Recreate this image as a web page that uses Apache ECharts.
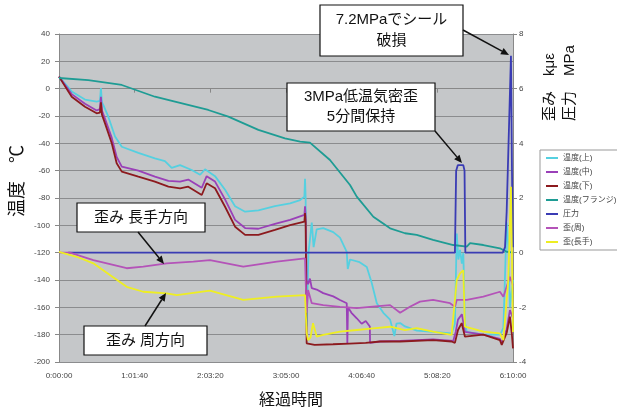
<!DOCTYPE html>
<html>
<head>
<meta charset="utf-8">
<script src="https://cdn.jsdelivr.net/npm/echarts@6/dist/echarts.min.js"></script>
<style>
  html, body { margin: 0; padding: 0; background: #fff; }
  #chart { width: 617px; height: 410px; }
</style>
</head>
<body>
<div id="chart"></div>
<script>
// 経過時間 [秒] と値のペア
var tempTop = [[0, 8.8], [620, -2], [1270, -8], [1840, -9.5], [2000, -9], [2050, 0.5], [2100, -10], [2170, -12], [2410, -20.5],
  [2740, -35], [3070, -42.5], [3880, -47], [4690, -51], [5180, -53], [5510, -58], [5920, -56], [6000, -57], [6490, -59.5],
  [6900, -63], [7140, -59], [7630, -64], [8120, -74], [8610, -86], [9100, -90], [9750, -89], [10560, -86], [11300, -84],
  [11790, -81.5], [12000, -79], [12030, -66], [12060, -80], [12110, -174], [12200, -120], [12360, -98], [12450, -116],
  [12600, -103], [12920, -102], [13410, -105], [13740, -109], [14070, -119.5], [14120, -132], [14230, -125], [14700, -127],
  [15050, -130.5], [15290, -142], [15540, -157], [15860, -164], [16190, -169], [16400, -181], [16500, -172], [16680, -171.5],
  [16920, -174], [17500, -177], [18290, -178], [19200, -179], [19360, -172], [19450, -106], [19530, -125], [19610, -118],
  [19700, -128], [19770, -120], [19850, -171], [19940, -178], [20750, -180], [21570, -180], [21730, -175], [21890, -98],
  [21970, -115], [22050, -160], [22200, -140]];

var tempMid = [[0, 8.8], [620, -4], [1270, -11], [1840, -16], [2000, -15], [2050, -6], [2100, -16], [2250, -22], [2580, -36],
  [2820, -50], [3070, -57], [3880, -60], [4690, -64.4], [5350, -67.5], [5920, -68], [6320, -66.5], [6980, -72.5], [7220, -64],
  [7630, -68], [8120, -81], [8610, -96], [9100, -102], [9750, -102.5], [10560, -99], [11300, -96], [12000, -92.4], [12030, -86],
  [12060, -93], [12110, -140], [12180, -143], [12270, -139], [12360, -146], [12600, -147], [12920, -149.6], [13410, -152],
  [13740, -154.6], [14070, -157], [14100, -186], [14130, -160], [14300, -164], [14560, -168], [14800, -172], [15000, -170],
  [15200, -174], [15210, -186], [15700, -185], [16680, -184.5], [18290, -183.5], [19280, -184.5], [19400, -178], [19510, -169],
  [19700, -165], [19850, -178], [20750, -180], [21560, -183], [21650, -186], [21890, -176], [22050, -162], [22200, -168]];

var tempLow = [[0, 8.8], [620, -5.9], [1270, -13.2], [1840, -18], [2000, -17.5], [2050, -10], [2100, -19], [2250, -25.4],
  [2580, -40], [2820, -54.6], [3070, -60.7], [3880, -64.4], [4690, -68], [5350, -71.7], [5920, -72.9], [6320, -71.7],
  [6980, -77.8], [7220, -69.2], [7630, -72.9], [8120, -86.4], [8610, -101], [9100, -107], [9750, -107], [10560, -103.4],
  [11300, -99.8], [12000, -97.3], [12030, -91], [12060, -98], [12110, -186.3], [12500, -187.5], [13400, -187], [14200, -186.5],
  [15000, -186], [15700, -185], [16680, -185], [18290, -184], [19200, -185], [19360, -186], [19510, -176.6], [19690, -171.5],
  [19850, -181.5], [20750, -180], [21560, -184], [21650, -187.5], [21890, -178.8], [22050, -166.8], [22140, -179], [22200, -190]];

var tempFlange = [[0, 7.8], [1430, 6.3], [3070, 2.7], [4690, -5.9], [5670, -9.5], [7300, -15.6], [8280, -20.5], [9750, -30.2],
  [11050, -36.3], [11790, -38.8], [12270, -39.5], [13250, -52.2], [14230, -70.5], [14560, -79], [15370, -93.7],
  [16190, -102.2], [16920, -105.8], [17490, -107], [18290, -110.7], [19280, -114.4], [19940, -115.6], [20100, -113],
  [20750, -114.4], [21560, -116.8], [21890, -119.3], [22200, -120]];

var pressure = [[450, 0], [19360, 0], [19420, 3.0], [19500, 3.2], [19770, 3.2], [19830, 3.0], [19870, 0], [21560, 0],
  [21600, -0.05], [21700, 0], [21810, 0.2], [21890, 1.5], [22100, 7.2], [22150, 3], [22200, 0.2]];

var strainHoop = [[0, 0], [530, 0], [1680, -0.27], [3310, -0.57], [4120, -0.51], [5270, -0.39], [6570, -0.33], [7380, -0.27],
  [9010, -0.51], [10650, -0.33], [12030, -0.21], [12110, -2.2], [12180, -1.37], [12360, -1.85], [12920, -1.92],
  [13740, -1.98], [14560, -2.03], [15210, -1.98], [16190, -1.92], [16680, -2.2], [17160, -1.98], [17650, -1.79],
  [18290, -1.73], [19120, -1.85], [19360, -1.98], [19450, -1.73], [19940, -1.73], [20750, -1.61], [21560, -1.43],
  [21730, -1.61], [22050, -0.88], [22200, -1.2]];

var strainAxial = [[0, 0.03], [870, -0.15], [1680, -0.39], [2490, -0.82], [3310, -1.25], [4120, -1.43], [5270, -1.49],
  [5760, -1.55], [7380, -1.39], [9010, -1.73], [10650, -1.61], [12030, -1.55], [12110, -2.94], [12180, -3.2], [12300, -3.1],
  [12420, -2.58], [12600, -3.07], [12920, -3.01], [13740, -2.89], [14560, -2.83], [15370, -2.77], [16190, -2.71],
  [16920, -2.83], [17490, -2.76], [18290, -2.89], [19200, -3.01], [19450, -1.0], [19610, -0.76], [19770, -0.64],
  [19850, -2.71], [20750, -2.89], [21560, -2.95], [21730, -3.2], [21970, -1.0], [22100, 2.41], [22200, -2.9]];

var seriesNames = ['温度(上)', '温度(中)', '温度(下)', '温度(フランジ)', '圧力', '歪(周)', '歪(長手)'];
var seriesColors = ['#55d0e0', '#9a40b8', '#8c1a1e', '#1e9c94', '#3a3cb4', '#b453b8', '#eeee22'];
var seriesData = [tempTop, tempMid, tempLow, tempFlange, pressure, strainHoop, strainAxial];
var seriesAxis = [0, 0, 0, 0, 1, 1, 1];

var FONT = "'Liberation Sans', 'Noto Sans CJK JP', sans-serif";

function hms(t) {
  var h = Math.floor(t / 3600), m = Math.floor((t % 3600) / 60), s = t % 60;
  return h + ':' + (m < 10 ? '0' : '') + m + ':' + (s < 10 ? '0' : '') + s;
}

// 吹き出しの矢印
function arrow(x1, y1, x2, y2) {
  var dx = x2 - x1, dy = y2 - y1, len = Math.sqrt(dx * dx + dy * dy);
  var ux = dx / len, uy = dy / len;
  var bx = x2 - ux * 8, by = y2 - uy * 8;
  return [
    { type: 'line', z: 100, shape: { x1: x1, y1: y1, x2: bx, y2: by }, style: { stroke: '#111', lineWidth: 1.5 } },
    { type: 'polygon', z: 100, shape: { points: [[x2, y2], [bx - uy * 3.5, by + ux * 3.5], [bx + uy * 3.5, by - ux * 3.5]] },
      style: { fill: '#111' } }
  ];
}

function note(x, y, w, h, text, lh) {
  return [
    { type: 'rect', z: 100, shape: { x: x, y: y, width: w, height: h }, style: { fill: '#fff', stroke: '#111', lineWidth: 1.2 } },
    { type: 'text', z: 101, x: x + w / 2, y: y + h / 2,
      style: { text: text, fontSize: 15, fontFamily: FONT, fill: '#111', align: 'center', verticalAlign: 'middle', lineHeight: lh || 20 } }
  ];
}

var chart = echarts.init(document.getElementById('chart'), null, { renderer: 'canvas' });

var graphics = [].concat(
  note(320, 5, 143, 51, '7.2MPaでシール\n破損', 21),
  arrow(463, 30, 509, 55),
  note(287, 83, 148, 48, '3MPa低温気密歪\n5分間保持', 20),
  arrow(435, 131, 462, 163),
  note(77, 203, 128, 29, '歪み 長手方向'),
  arrow(138, 232, 164, 264),
  note(84, 326, 123, 29, '歪み 周方向'),
  arrow(145, 326, 166, 293),
  [
    { type: 'text', x: 9, y: 217, rotation: Math.PI / 2,
      style: { text: '温度　℃', fontSize: 18, fontFamily: FONT, fill: '#111', align: 'left', verticalAlign: 'top' } },
    { type: 'text', x: 540, y: 121, rotation: Math.PI / 2,
      style: { text: '歪み　kμε\n圧力　MPa', fontSize: 15, lineHeight: 20, fontFamily: FONT, fill: '#111', align: 'left', verticalAlign: 'top' } },
    { type: 'text', x: 291, y: 401,
      style: { text: '経過時間', fontSize: 16, fontFamily: FONT, fill: '#111', align: 'center', verticalAlign: 'middle' } }
  ]
);

var option = {
  animation: false,
  backgroundColor: '#fff',
  grid: {
    left: 59, right: 104, top: 34, bottom: 48,
    show: true, backgroundColor: '#c5c7c9', borderWidth: 0,
    outerBoundsMode: 'none'
  },
  legend: {
    orient: 'vertical',
    left: 540, top: 150,
    data: seriesNames,
    icon: 'rect',
    itemWidth: 12, itemHeight: 2, itemGap: 4,
    padding: [3, 6],
    backgroundColor: '#fff',
    borderColor: '#999', borderWidth: 1,
    textStyle: { fontSize: 8, lineHeight: 10, color: '#444', fontFamily: FONT }
  },
  xAxis: {
    type: 'value', min: 0, max: 22200, interval: 3700,
    axisLine: { lineStyle: { color: '#888', width: 1 } },
    axisTick: { show: true, length: 4, lineStyle: { color: '#888' } },
    splitLine: { show: false },
    axisLabel: { fontSize: 8, color: '#444', fontFamily: FONT, margin: 10, formatter: hms }
  },
  yAxis: [
    {
      type: 'value', min: -200, max: 40, interval: 20,
      axisLine: { show: true, lineStyle: { color: '#888' } },
      axisTick: { show: true, length: 4, lineStyle: { color: '#888' } },
      splitLine: { show: true, lineStyle: { color: '#8b8c8e', width: 1 } },
      axisLabel: { fontSize: 8, color: '#444', fontFamily: FONT, margin: 9 }
    },
    {
      type: 'value', min: -4, max: 8, interval: 2, position: 'right',
      axisLine: { show: true, lineStyle: { color: '#888' } },
      axisTick: { show: true, length: 4, lineStyle: { color: '#888' } },
      splitLine: { show: false },
      axisLabel: { fontSize: 8, color: '#444', fontFamily: FONT, margin: 6 }
    }
  ],
  series: seriesNames.map(function (name, i) {
    return {
      name: name,
      type: 'line',
      yAxisIndex: seriesAxis[i],
      data: seriesData[i],
      showSymbol: false,
      symbol: 'none',
      color: seriesColors[i],
      lineStyle: { width: 1.8, color: seriesColors[i] }
    };
  }),
  graphic: graphics
};

chart.setOption(option);
</script>
</body>
</html>
